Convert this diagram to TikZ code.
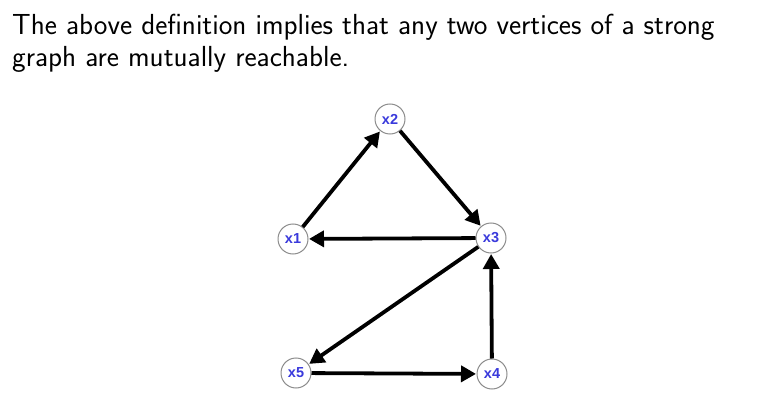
\documentclass[tikz,border=0pt]{standalone}
\usepackage{fontspec}
\newfontfamily\nodefont{Liberation Sans}
\usetikzlibrary{arrows.meta}
\definecolor{lblue}{HTML}{3A3ADC}
\begin{document}
\begin{tikzpicture}[x=1pt,y=-1pt,
  vtx/.style={circle,draw=black!45,line width=1pt,fill=white,minimum size=30pt,inner sep=0pt,
    font=\nodefont\bfseries\fontsize{14.5}{14.5}\selectfont,text=lblue},
  edge/.style={line width=3.8pt,-{Triangle[length=15pt,width=16pt]},shorten >=0.5pt}]
\useasboundingbox (0,0) rectangle (774,401);
\node[anchor=base west,inner sep=0pt,font=\sffamily\fontsize{29}{32}\selectfont] (t1) at (12,35) {The above definition implies that any two vertices of a strong};
\node[anchor=base west,inner sep=0pt,font=\sffamily\fontsize{29}{32}\selectfont] (t2) at (12,67) {graph are mutually reachable.};
\node[vtx] (x2) at (390,119) {x2};
\node[vtx] (x1) at (293,239) {x1};
\node[vtx] (x3) at (491,238) {x3};
\node[vtx] (x5) at (296,373) {x5};
\node[vtx] (x4) at (492,374) {x4};
\draw[edge] (x1) -- (x2);
\draw[edge] (x2) -- (x3);
\draw[edge] (x3) -- (x1);
\draw[edge] (x3) -- (x5);
\draw[edge] (x5) -- (x4);
\draw[edge] (x4) -- (x3);
\end{tikzpicture}
\end{document}
